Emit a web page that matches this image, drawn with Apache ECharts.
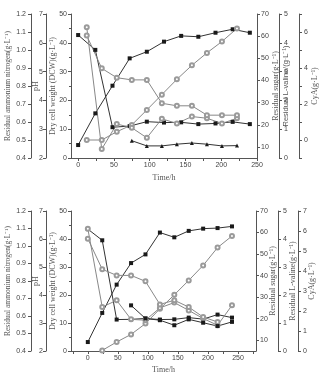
<!DOCTYPE html>
<html>
<head>
<meta charset="utf-8">
<script src="https://cdn.jsdelivr.net/npm/echarts@6/dist/echarts.min.js"></script>
<style>
  html, body { margin: 0; padding: 0; background: #fff; }
  #chart { width: 319px; height: 376px; }
</style>
</head>
<body>
<div id="chart"></div>
<script>
// sampling times (h)
const tSquare = [0, 24, 48, 72, 96, 120, 144, 168, 192, 216, 240]
const tCircle = [12, 33, 54, 75, 96, 117, 138, 159, 180, 201, 222]

// upper panel
const dcw1 = [4.5, 15.5, 25.1, 34.6, 36.9, 40.4, 42.4, 42.1, 43.5, 44.7, 43.5]
const sugar1 = [60.5, 53.8, 18.9, 19.4, 21.4, 21.0, 21.1, 20.3, 20.6, 21.3, 20.3]
const cya1 = [0.0, 0.0, 0.46, 0.84, 1.67, 2.52, 3.37, 4.15, 4.84, 5.47, 6.2]
const valine1 = [4.54, 0.31, 1.18, 1.05, 0.70, 1.36, 1.20, 1.44, 1.38, 1.20, 1.38]
const ammonium1 = [1.08, 0.898, 0.846, 0.834, 0.834, 0.704, 0.69, 0.69, 0.638, 0.638, 0.638]
const ph1 = [2.6, 2.42, 2.42, 2.48, 2.52, 2.48, 2.42, 2.43] // from 75 h

// lower panel
const dcw2 = [3.2, 13.6, 23.7, 31.4, 34.5, 42.3, 40.6, 42.9, 43.7, 43.9, 44.5]
const sugar2 = [61.6, 56.4, 19.6, 19.7, 20.1, 19.6, 19.7, 20.5, 19.8, 21.9, 20.5]
const cya2 = [0.03, 0.45, 0.83, 1.37, 2.11, 2.81, 3.53, 4.28, 5.17, 5.75] // from 24 h
const valine2 = [4.37, 1.57, 1.81, 1.13, 1.10, 1.54, 1.73, 1.45, 1.16, 0.92, 1.63]
const ammonium2 = [1.042, 0.867, 0.832, 0.832, 0.798, 0.666, 0.69, 0.651, 0.594, 0.566] // to 216 h
const ph2 = [3.63, 3.16, 3.10, 2.92, 3.13, 3.01, 2.89, 3.04] // from 72 h

// axis ticks
const timeLabels = [0, 50, 100, 150, 200, 250]
const sugarTicks = [10, 20, 30, 40, 50, 60, 70]
const cyaTopLabels = [0, 2, 4, 6]

const axisColor = '#555'
const serif = 'Liberation Serif'
const sans = 'Liberation Sans'

const zip = (t, v) => v.map((y, i) => [t[i], y])

function merge(base, o) {
  const out = Object.assign({}, base)
  Object.keys(o).forEach(k => {
    if (o[k] && typeof o[k] === 'object' && !Array.isArray(o[k]) && base[k]) {
      out[k] = Object.assign({}, base[k], o[k])
    } else {
      out[k] = o[k]
    }
  })
  return out
}

function yAx(gridIndex, position, offset, o) {
  return merge({
    type: 'value', gridIndex, position, offset,
    nameLocation: 'middle', nameRotate: 90, nameMoveOverlap: false,
    nameTextStyle: { fontFamily: serif, fontSize: 8, color: '#555' },
    axisLine: { show: true, onZero: false, lineStyle: { color: axisColor, width: 1 } },
    axisTick: { show: true, length: 3, lineStyle: { color: axisColor } },
    axisLabel: { fontSize: 7, color: '#444', fontFamily: sans, margin: 4 },
    splitLine: { show: false }
  }, o)
}

function xAx(gridIndex, min, max, ticks, o) {
  return merge({
    type: 'value', gridIndex, min, max,
    name: 'Time/h', nameLocation: 'middle', nameGap: 16, nameMoveOverlap: false,
    nameTextStyle: { fontFamily: serif, fontSize: 8, color: '#555' },
    axisLine: { show: true, onZero: false, lineStyle: { color: axisColor, width: 1 } },
    axisTick: { show: true, length: 3, customValues: ticks, lineStyle: { color: axisColor } },
    axisLabel: { fontSize: 7, color: '#444', fontFamily: sans, margin: 4, customValues: timeLabels },
    splitLine: { show: false }
  }, o)
}

function panelAxes(g, top) {
  return [
    yAx(g, 'left', 40, { name: 'Residual ammonium nitrogen(g·L⁻¹)', nameGap: 19, min: 0.4, max: 1.2, interval: 0.1,
      nameTextStyle: { fontSize: 7.5 },
      axisLabel: { margin: 5, formatter: v => v.toFixed(1) } }),
    yAx(g, 'left', 25, { name: 'pH', nameGap: 6, min: 2, max: 7, interval: 1, axisLabel: { margin: 3 } }),
    yAx(g, 'left', 0, { name: 'Dry cell weight (DCW)(g·L⁻¹)', nameGap: 14, min: 0, max: 50, interval: 10,
      minorTick: { show: true, splitNumber: 2, length: 2, lineStyle: { color: axisColor } } }),
    yAx(g, 'right', 0, { name: 'Residual sugar(g·L⁻¹)', nameGap: top ? 15 : 13, min: 5, max: 70,
      axisLabel: { customValues: sugarTicks }, axisTick: { customValues: sugarTicks } }),
    yAx(g, 'right', 22, top
      ? { name: 'Residual L-valine/(g·L⁻¹)', nameGap: 3, min: 0, max: 5, interval: 1,
          nameTextStyle: { fontFamily: sans, fontSize: 7.5 }, axisLabel: { margin: 5 } }
      : { name: 'Residual L-valine(g·L⁻¹)', nameGap: 11, min: 0, max: 5, interval: 1, axisLabel: { margin: 5 } }),
    yAx(g, 'right', 42, top
      ? { name: 'CyA(g·L⁻¹)', nameGap: 12, min: -1, max: 7,
          axisLabel: { margin: 5, customValues: cyaTopLabels }, axisTick: { customValues: [-1, 0, 1, 2, 3, 4, 5, 6, 7] } }
      : { name: 'CyA(g·L⁻¹)', nameGap: 10, min: 0, max: 7, interval: 1, axisLabel: { margin: 5 } })
  ]
}

function line(kind, x, y, data) {
  const s = { type: 'line', xAxisIndex: x, yAxisIndex: y, data, symbolSize: 4, animation: false, z: 3 }
  if (kind === 'square') {
    s.symbol = 'rect'
    s.itemStyle = { color: '#1a1a1a' }
    s.lineStyle = { color: '#333', width: 1 }
  } else if (kind === 'triangle') {
    s.symbol = 'triangle'
    s.itemStyle = { color: '#1a1a1a' }
    s.lineStyle = { color: '#333', width: 1 }
  } else {
    s.symbol = 'emptyCircle'
    s.itemStyle = { color: '#9a9a9a', borderWidth: 1 }
    s.lineStyle = { color: '#888', width: 1 }
  }
  return s
}

const chart = echarts.init(document.getElementById('chart'))
chart.setOption({
  backgroundColor: '#fff',
  grid: [
    { left: 71, width: 186, top: 14, height: 144, containLabel: false, outerBoundsMode: 'none' },
    { left: 71, width: 185, top: 211, height: 140, containLabel: false, outerBoundsMode: 'none' }
  ],
  xAxis: [
    xAx(0, -10, 250, [0, 25, 50, 75, 100, 125, 150, 175, 200, 225, 250], {}),
    xAx(1, -28, 280, [-25, 0, 25, 50, 75, 100, 125, 150, 175, 200, 225, 250, 275], { nameGap: 15 })
  ],
  yAxis: panelAxes(0, true).concat(panelAxes(1, false)),
  series: [
    line('square', 0, 2, zip(tSquare, dcw1)),
    line('square', 0, 3, zip(tSquare, sugar1)),
    line('circle', 0, 5, zip(tCircle, cya1)),
    line('circle', 0, 4, zip(tCircle, valine1)),
    line('circle', 0, 0, zip(tCircle, ammonium1)),
    line('triangle', 0, 1, zip(tCircle.slice(3), ph1)),

    line('square', 1, 8, zip(tSquare, dcw2)),
    line('square', 1, 9, zip(tSquare, sugar2)),
    line('circle', 1, 11, zip(tSquare.slice(1), cya2)),
    line('circle', 1, 10, zip(tSquare, valine2)),
    line('circle', 1, 6, zip(tSquare, ammonium2)),
    line('square', 1, 7, zip(tSquare.slice(3), ph2))
  ]
})
</script>
</body>
</html>
